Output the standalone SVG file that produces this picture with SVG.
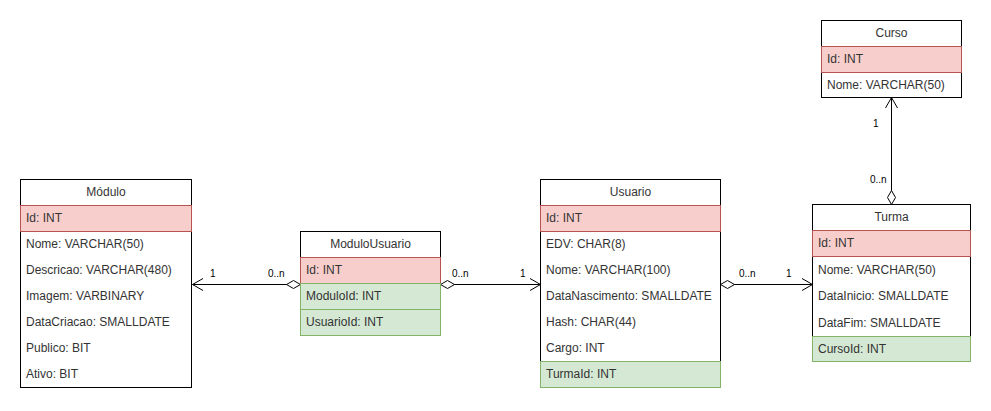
<svg xmlns="http://www.w3.org/2000/svg" width="991" height="411" viewBox="0 0 991 411">
<style>
text{font-family:"Liberation Sans",Arial,sans-serif;font-size:12px;fill:#333}
.h{text-anchor:middle}
.lbl{font-size:10px;fill:#000}
.box{fill:#fff;stroke:#000;stroke-width:1}
.pk{fill:#f8cecc;stroke:#b85450;stroke-width:1}
.fk{fill:#d5e8d4;stroke:#82b366;stroke-width:1}
.ln{fill:none;stroke:#000;stroke-width:1}
.dia{fill:#fff;stroke:#000;stroke-width:1}
</style>
<rect width="991" height="411" fill="#fff"/>
<g id="connectors">
  <path class="ln" d="M300.5,284.5 H192.5"/>
  <path class="dia" d="M300.5,284.5 L293.5,280.5 L286.5,284.5 L293.5,288.5 Z"/>
  <path class="ln" d="M203,278.5 L192.5,284.5 L203,290.5"/>
  <text class="lbl" x="210" y="277">1</text>
  <text class="lbl" x="268" y="277">0..n</text>

  <path class="ln" d="M440.5,284.5 H540.5"/>
  <path class="dia" d="M440.5,284.5 L447.5,280.5 L454.5,284.5 L447.5,288.5 Z"/>
  <path class="ln" d="M530,278.5 L540.5,284.5 L530,290.5"/>
  <text class="lbl" x="452" y="277">0..n</text>
  <text class="lbl" x="520" y="277">1</text>

  <path class="ln" d="M720.5,284.5 H812.5"/>
  <path class="dia" d="M720.5,284.5 L727.5,280.5 L734.5,284.5 L727.5,288.5 Z"/>
  <path class="ln" d="M802,278.5 L812.5,284.5 L802,290.5"/>
  <text class="lbl" x="739" y="277">0..n</text>
  <text class="lbl" x="786" y="277">1</text>

  <path class="ln" d="M891.5,204.5 V97.5"/>
  <path class="dia" d="M891.5,204.5 L887.5,197.5 L891.5,190.5 L895.5,197.5 Z"/>
  <path class="ln" d="M885.5,108 L891.5,97.5 L897.5,108"/>
  <text class="lbl" x="873" y="127">1</text>
  <text class="lbl" x="870" y="183">0..n</text>
</g>
<g id="modulo">
  <rect class="box" x="20.5" y="179.5" width="171" height="208"/>
  <text class="h" x="106" y="196">Módulo</text>
  <rect class="pk" x="20.5" y="205.5" width="171" height="26"/>
  <text x="26" y="222">Id: INT</text>
  <text x="26" y="248">Nome: VARCHAR(50)</text>
  <text x="26" y="274">Descricao: VARCHAR(480)</text>
  <text x="26" y="300">Imagem: VARBINARY</text>
  <text x="26" y="326">DataCriacao: SMALLDATE</text>
  <text x="26" y="352">Publico: BIT</text>
  <text x="26" y="378">Ativo: BIT</text>
</g>
<g id="modulousuario">
  <rect class="box" x="300.5" y="231.5" width="140" height="26"/>
  <text class="h" x="370.5" y="248">ModuloUsuario</text>
  <rect class="pk" x="300.5" y="257.5" width="140" height="26"/>
  <text x="306" y="274">Id: INT</text>
  <rect class="fk" x="300.5" y="283.5" width="140" height="26"/>
  <text x="306" y="300">ModuloId: INT</text>
  <rect class="fk" x="300.5" y="309.5" width="140" height="26"/>
  <text x="306" y="326">UsuarioId: INT</text>
</g>
<g id="usuario">
  <rect class="box" x="540.5" y="179.5" width="180" height="182"/>
  <text class="h" x="630.5" y="196">Usuario</text>
  <rect class="pk" x="540.5" y="205.5" width="180" height="26"/>
  <text x="546" y="222">Id: INT</text>
  <text x="546" y="248">EDV: CHAR(8)</text>
  <text x="546" y="274">Nome: VARCHAR(100)</text>
  <text x="546" y="300">DataNascimento: SMALLDATE</text>
  <text x="546" y="326">Hash: CHAR(44)</text>
  <text x="546" y="352">Cargo: INT</text>
  <rect class="fk" x="540.5" y="361.5" width="180" height="26"/>
  <text x="546" y="378">TurmaId: INT</text>
</g>
<g id="turma">
  <rect class="box" x="812.5" y="204.5" width="158" height="132"/>
  <text class="h" x="891.5" y="221">Turma</text>
  <rect class="pk" x="812.5" y="230.5" width="158" height="26"/>
  <text x="818" y="247">Id: INT</text>
  <text x="818" y="274">Nome: VARCHAR(50)</text>
  <text x="818" y="300">DataInicio: SMALLDATE</text>
  <text x="818" y="327">DataFim: SMALLDATE</text>
  <rect class="fk" x="812.5" y="336.5" width="158" height="25"/>
  <text x="818" y="353">CursoId: INT</text>
</g>
<g id="curso">
  <rect class="box" x="821.5" y="20.5" width="140" height="77"/>
  <text class="h" x="891.5" y="37">Curso</text>
  <rect class="pk" x="821.5" y="46.5" width="140" height="26"/>
  <text x="827" y="63">Id: INT</text>
  <text x="827" y="89">Nome: VARCHAR(50)</text>
</g>
</svg>
